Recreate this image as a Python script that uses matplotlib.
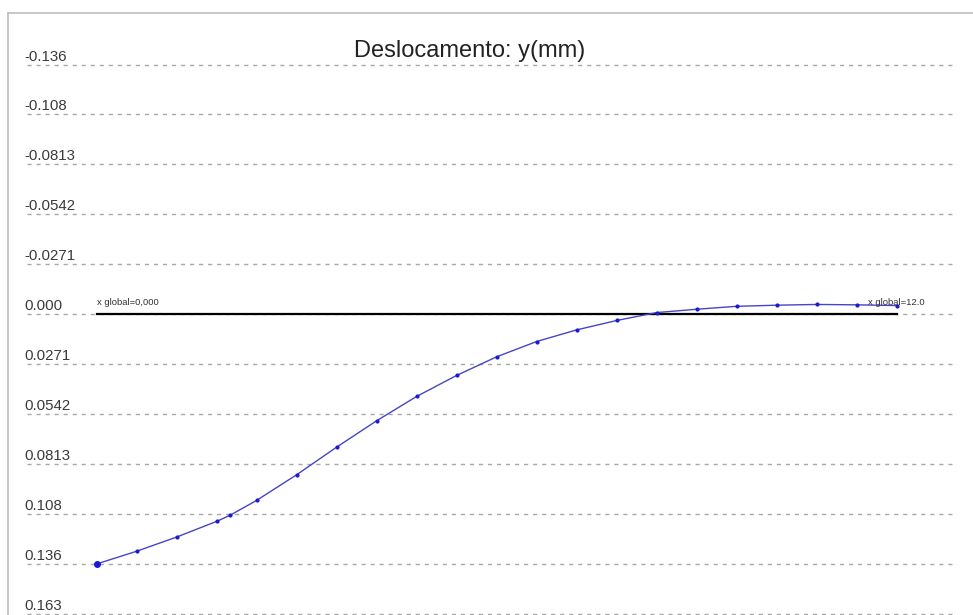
import matplotlib
matplotlib.use("Agg")
import matplotlib.pyplot as plt
import matplotlib.transforms as mtransforms
from matplotlib.lines import Line2D

plt.rcParams['font.family'] = ['Liberation Sans', 'DejaVu Sans']

# Beam stations (m) and vertical displacement (mm); positive is downward
x_global = [0.0, 0.6, 1.2, 1.8, 2.0, 2.4, 3.0, 3.6, 4.2, 4.8, 5.4, 6.0,
            6.6, 7.2, 7.8, 8.4, 9.0, 9.6, 10.2, 10.8, 11.4, 12.0]
disp_y = [0.1355, 0.1286, 0.1209, 0.1124, 0.1091, 0.1010, 0.0871, 0.0721,
          0.0578, 0.0446, 0.0332, 0.0231, 0.0148, 0.0085, 0.0034, -0.0009,
          -0.0027, -0.0043, -0.0049, -0.0053, -0.0051, -0.0047]

# Scale lines and their labels
tick_values = [-0.1355, -0.1084, -0.0813, -0.0542, -0.0271, 0.0,
               0.0271, 0.0542, 0.0813, 0.1084, 0.1355, 0.1626]
tick_labels = ['-0.136', '-0.108', '-0.0813', '-0.0542', '-0.0271', '0.000',
               '0.0271', '0.0542', '0.0813', '0.108', '0.136', '0.163']

beam_start, beam_end = 0.0, 12.0
start_label = 'x global=0,000'
end_label = 'x global=12.0'
title = 'Deslocamento: y(mm)'

W, H = 973, 615
fig = plt.figure(figsize=(W / 100, H / 100), dpi=100)
ax = fig.add_axes([0, 0, 1, 1])
ax.set_xlim(-1.45, 13.145)
ax.set_ylim(0.1632, -0.1705)
ax.axis('off')

# dashed scale lines
for v in tick_values:
    ax.axhline(v, xmin=27 / W, xmax=957 / W, color='#a8a8a8', lw=1.0,
               linestyle=(0, (3, 3.5)), zorder=1)

# scale labels sitting just above each line
lab_tr = mtransforms.offset_copy(
    mtransforms.blended_transform_factory(ax.transAxes, ax.transData),
    fig=fig, x=0, y=4.0, units='dots')
for v, s in zip(tick_values, tick_labels):
    ax.text(24 / W, v, s, transform=lab_tr, ha='left', va='baseline',
            fontsize=10.8, color='#3a3a3a')

# undeformed beam axis
ax.plot([beam_start, beam_end], [0, 0], color='black', lw=1.6, zorder=2)

# deformed shape
ax.plot(x_global, disp_y, color='#4545c8', lw=1.0, zorder=3)
ax.plot(x_global, disp_y, linestyle='none', marker='o', ms=2.0,
        color='#1a1ad0', zorder=4)
ax.plot([x_global[0]], [disp_y[0]], linestyle='none', marker='o', ms=4.0,
        color='#1a1ad0', zorder=5)

# end-of-beam annotations
ann_tr = mtransforms.offset_copy(ax.transData, fig=fig, x=0, y=12, units='dots')
ax.text(beam_start, 0, start_label, transform=ann_tr, ha='left',
        va='center', fontsize=6.8, color='#333333')
ax.text(beam_end, 0, end_label, transform=ann_tr, ha='center',
        va='center', fontsize=6.8, color='#333333')

# title
ax.text(470 / W, 1 - 57 / H, title, transform=ax.transAxes, ha='center',
        va='baseline', fontsize=17, color='#222222')

# panel border (top and left edges)
fig.add_artist(Line2D([8 / W, 1.0], [1 - 13 / H, 1 - 13 / H],
                      transform=fig.transFigure, color='#bdbdbd', lw=1.2))
fig.add_artist(Line2D([8 / W, 8 / W], [0.0, 1 - 13 / H],
                      transform=fig.transFigure, color='#bdbdbd', lw=1.2))

fig.savefig('out.png', dpi=100)
